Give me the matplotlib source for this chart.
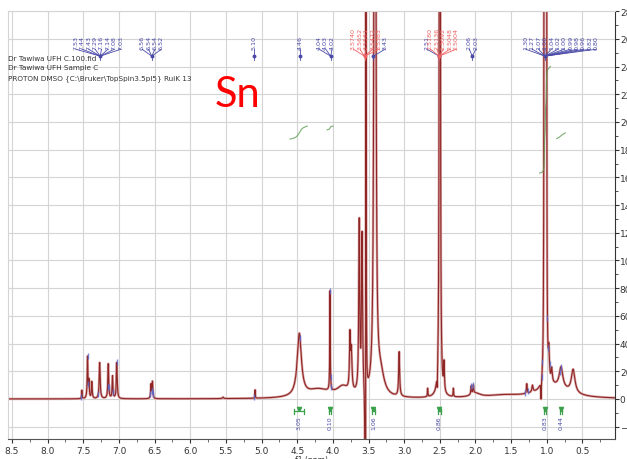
import numpy as np
import matplotlib.pyplot as plt
from matplotlib.ticker import MultipleLocator

# Peak list used to build the 1H trace: shift (ppm), height, half width (ppm)
shift_ppm = [7.52, 7.44, 7.42, 7.38, 7.27, 7.15, 7.09, 7.03, 6.55, 6.53,
             5.54, 5.09, 4.47, 4.20, 4.04, 3.86, 3.76, 3.74, 3.63, 3.59,
             3.538, 3.542, 3.41, 3.33, 3.07, 2.67, 2.535, 2.50, 2.44, 2.31,
             2.06, 2.03, 2.00, 1.60, 1.28, 1.20, 1.08, 1.035, 1.02, 1.005,
             0.97, 0.93, 0.80, 0.63, 0.90]
shift_height = [6, 30, 12, 12, 26, 25, 16, 26, 10, 12,
                1, 6, 45, 6, 72, 7, 38, 28, 122, 112,
                3000, -3000, 5000, 15, 32, 6, -14, 3000, 20, 6,
                6, 6, 3, 2, 7, 5, -14, 2000, 2000, 2000,
                20, 10, 15, 17, 8]
shift_hwhm = [0.004, 0.006, 0.005, 0.006, 0.008, 0.007, 0.006, 0.007, 0.006, 0.006,
              0.01, 0.003, 0.035, 0.2, 0.004, 0.1, 0.008, 0.01, 0.008, 0.008,
              0.002, 0.002, 0.004, 0.06, 0.008, 0.004, 0.004, 0.003, 0.006, 0.004,
              0.006, 0.006, 0.08, 0.3, 0.006, 0.01, 0.004, 0.002, 0.002, 0.002,
              0.008, 0.01, 0.03, 0.03, 0.25]

# picked-peak labels (grouped as they appear across the top)
pick_labels = [
    ["7.53", "7.44", "7.43", "7.29", "7.16", "7.14", "7.08", "7.03"],
    ["6.56", "6.54", "6.54", "6.52"],
    ["5.10"],
    ["4.46"],
    ["4.04", "4.03", "4.02"],
    ["3.5740", "3.5652", "3.5561", "3.5472", "3.5383"],
    ["3.43"],
    ["2.51"],
    ["2.5180", "2.5136", "2.5092", "2.5048", "2.5004"],
    ["2.06", "2.03"],
    ["1.30", "1.27", "1.07", "1.06", "1.04", "1.02", "1.00", "0.99",
     "0.98", "0.96", "0.82", "0.80"],
]
pick_colors = ["#4a4aa8", "#4a4aa8", "#4a4aa8", "#4a4aa8", "#4a4aa8", "#f06060",
               "#4a4aa8", "#4a4aa8", "#f06060", "#4a4aa8", "#4a4aa8"]
pick_centre = [7.29, 6.54, 5.10, 4.46, 4.10, 3.53, 3.27, 2.68, 2.45, 2.04, 0.80]

# integration regions (ppm from, to), displayed values and curve tops
integ_from = [4.60, 4.08, 3.50, 2.56, 1.10, 0.86]
integ_to = [4.36, 4.00, 3.36, 2.46, 0.95, 0.74]
integ_text = ["3.05", "0.10", "1.06", "0.86", "0.83", "0.44"]
integ_top = [197, 197, 700, 700, 240, 192]

header = ["Dr Tawiwa UFH C.100.fid",
          "Dr Tawiwa UFH Sample C",
          "PROTON DMSO {C:\\Bruker\\TopSpin3.5pl5} RuiK 13"]


def spectrum(ppm):
    y = np.zeros_like(ppm)
    for c, h, w in zip(shift_ppm, shift_height, shift_hwhm):
        y += h / (1 + ((ppm - c) / w) ** 2)
    return y


ppm = np.linspace(0.0, 8.6, 17201)
spec = spectrum(ppm)

fig = plt.figure(figsize=(6.27, 4.60), dpi=100)
ax = fig.add_axes([8 / 627, 20 / 460, 607 / 627, 428 / 460])
ax.set_xlim(8.556, 0.043)
ax.set_ylim(-28.9, 280.1)

# grid
ax.xaxis.set_major_locator(MultipleLocator(0.5))
ax.xaxis.set_minor_locator(MultipleLocator(0.25))
ax.yaxis.set_major_locator(MultipleLocator(20))
ax.yaxis.set_minor_locator(MultipleLocator(10))
ax.grid(True, which="major", color="#d4d4d4", lw=0.8)
ax.set_axisbelow(True)

# trace: soft halo underneath, dark core on top
ax.plot(ppm, spec, color="#dcaaaa", lw=1.8, solid_joinstyle="round")
ax.plot(ppm, spec, color="#8e2626", lw=0.8)

# blue tint on the picked peak tops
for labels, col in zip(pick_labels, pick_colors):
    if col != "#4a4aa8":
        continue
    for t in labels:
        v = float(t)
        top = spectrum(np.array([v]))[0]
        if top < 100:
            ax.plot([v], [top], marker="|", ms=4, mew=1.0, color="#5a6ad0",
                    alpha=0.8)

# integral curves
dppm = ppm[1] - ppm[0]
for a, b, top in zip(integ_from, integ_to, integ_top):
    m = (ppm <= a) & (ppm >= b)
    seg = spec[m][::-1]
    cum = np.cumsum(seg) * dppm * 2.0
    curve = top - cum[-1] + cum
    ax.plot(ppm[m][::-1], curve, color="#5a9a50", lw=0.8, alpha=0.8)

# integration brackets and values underneath the trace
for a, b, txt in zip(integ_from, integ_to, integ_text):
    mid = (a + b) / 2
    half = 0.02 if a - b < 0.2 else 0.07
    ax.plot([mid + half, mid - half], [-9, -9], color="#3aa04a", lw=0.9)
    ax.plot([mid + half, mid + half], [-7, -11], color="#3aa04a", lw=0.9)
    ax.plot([mid - half, mid - half], [-7, -11], color="#3aa04a", lw=0.9)
    ax.plot([mid], [-7.5], marker="v", ms=3, color="#3aa04a")
    ax.text(mid, -12, txt, rotation=90, ha="center", va="top",
            fontsize=4.5, color="#4a4aa8")

# peak labels along the top with tree lines down to the peaks
for labels, col, centre in zip(pick_labels, pick_colors, pick_centre):
    n = len(labels)
    step = 0.09
    xs = centre + step * (np.arange(n) - (n - 1) / 2)[::-1]
    vals = [float(t) for t in labels]
    target = np.mean(vals)
    for xl, t in zip(xs, labels):
        ax.text(xl, 253, t, rotation=90, ha="center", va="bottom",
                fontsize=4.6, color=col)
        ax.plot([xl, target], [252.5, 247.5], color=col, lw=0.6)
    ax.plot([target], [247.5], marker="o", ms=1.8, color=col)
    ax.plot([target, target], [247.5, 245], color=col, lw=0.6)

# axes look
for side in ("top", "left"):
    ax.spines[side].set_color("#d4d4d4")
ax.spines["right"].set_color("#333333")
ax.spines["bottom"].set_color("#555555")
ax.yaxis.tick_right()
ax.tick_params(axis="y", which="major", length=3, pad=0.5,
               labelsize=6.5, colors="#333333")
ax.tick_params(axis="y", which="minor", length=2, colors="#333333")
ax.tick_params(axis="x", which="major", length=3, pad=2,
               labelsize=6.5, colors="#333333")
ax.tick_params(axis="x", which="minor", length=2, colors="#555555")
ax.set_xticks(np.arange(0.5, 8.51, 0.5))
ax.set_xticklabels(["%.1f" % v for v in np.arange(0.5, 8.51, 0.5)])
ax.set_xlabel("f1 (ppm)", fontsize=5.5, labelpad=0, color="#333333")

for i, line in enumerate(header):
    fig.text(8 / 627, 1 - (61 + 9.5 * i) / 460, line, fontsize=5.2,
             color="#333333", va="baseline")

fig.text(215 / 627, 1 - 107 / 460, "Sn", color="red", fontsize=30,
         family="Lato", va="baseline")

fig.savefig("out.png", dpi=100)
